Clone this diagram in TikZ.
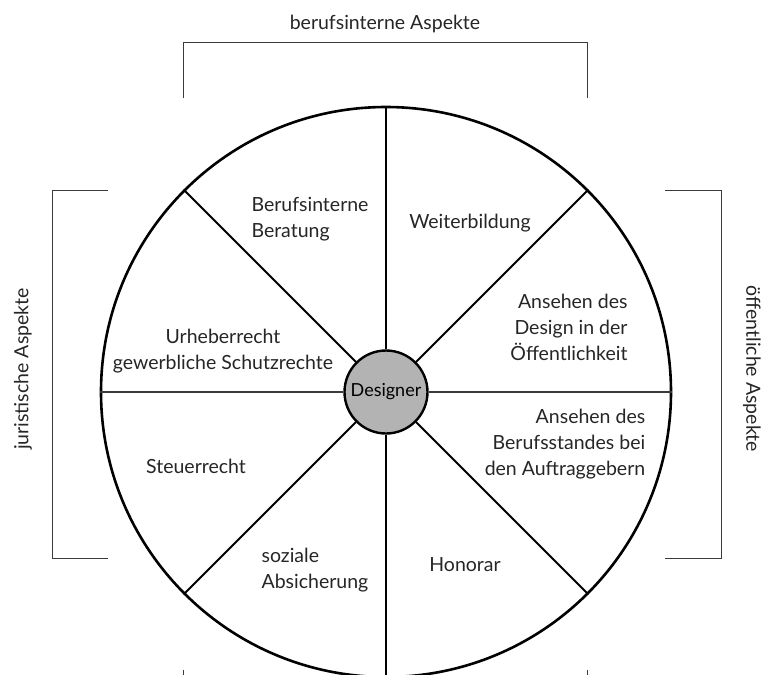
\documentclass[tikz,border=0pt]{standalone}
\usepackage{fontspec}
\setsansfont{Lato}
\usetikzlibrary{calc}
\definecolor{cCore}{HTML}{B3B3B3}
\definecolor{cLine}{HTML}{3A3A3A}
\tikzset{
    sector/.style  ={font=\sffamily\fontsize{19.5}{26}\selectfont, text=black!85, inner sep=0pt},
    aspect/.style  ={font=\sffamily\fontsize{19.5}{22}\selectfont, text=black!85, inner sep=0pt},
    wheel/.style   ={circle, draw, line width=2.6pt, minimum size=570pt, inner sep=0pt},
    core/.style    ={circle, draw, line width=2.4pt, fill=cCore, minimum size=83pt, inner sep=0pt,
                     font=\sffamily\fontsize{18}{20}\selectfont},
    spoke/.style   ={line width=2pt},
    axis/.style    ={line width=1.1pt},
    bracket/.style ={line width=1pt, cLine},
}

\begin{document}
\begin{tikzpicture}[x=1pt, y=-1pt]
\useasboundingbox (0,0) rectangle (761,675);

% ===================== Rad und Nabe =====================
\node[wheel] (rad) at (386,392) {};
\node[core]  (designer) at (386,392) {Designer};

% ===================== Speichen =====================
\draw[axis] (designer.90) -- (rad.90);
\draw[axis] (designer.270) -- (rad.270);
\draw[axis, line width=1.5pt, cLine] (designer.180) -- (rad.180);
\draw[axis, line width=1.5pt, cLine] (designer.0) -- (rad.0);
\foreach \a in {45,135,225,315}
    \draw[spoke] (designer.\a) -- (rad.\a);

% ===================== Felder =====================
\node[sector, align=left]   (beratung) at (310,219) {Berufsinterne\\Beratung};
\node[sector]               (weiter)   at (470,223) {Weiterbildung};
\node[sector, align=center] (urheber)  at (223,351) {Urheberrecht\\gewerbliche Schutzrechte};
\node[sector, align=right]  (design)   at (569,327) {Ansehen des\\Design in der\\Öffentlichkeit};
\node[sector]               (steuer)   at (196,466) {Steuerrecht};
\node[sector, align=right]  (stand)    at (565,444) {Ansehen des\\Berufsstandes bei\\den Auftraggebern};
\node[sector, align=left]   (sozial)   at (315,570) {soziale\\Absicherung};
\node[sector]               (honorar)  at (465,565) {Honorar};

% ===================== Klammern =====================
\draw[bracket] (183,98) -- (183,42) -- (587,42) -- (587,98);
\node[aspect] (intern) at (385,24) {berufsinterne Aspekte};

\draw[bracket] (108,190) -- (52,190) -- (52,558) -- (108,558);
\node[aspect, rotate=90] (jur) at (23,369) {juristische Aspekte};

\draw[bracket] (665,190) -- (721,190) -- (721,558) -- (665,558);
\node[aspect, rotate=-90] (oeff) at (752,369) {öffentliche Aspekte};

\draw[bracket] (183,670) -- (183,680);
\draw[bracket] (587,670) -- (587,680);

\end{tikzpicture}
\end{document}
